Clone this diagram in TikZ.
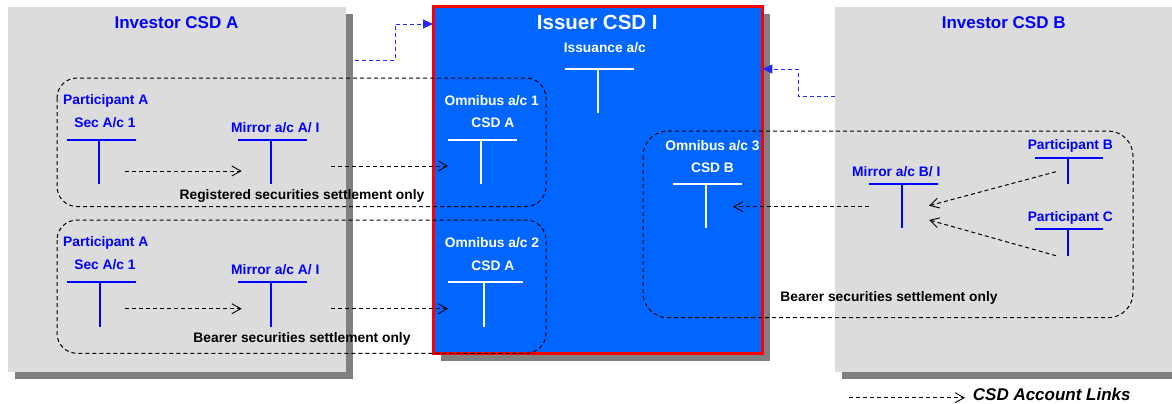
\documentclass[tikz,border=0pt]{standalone}
\usepackage{fontspec}
\setmainfont{Liberation Sans}
\usetikzlibrary{arrows.meta,shadows}

\definecolor{boxgray}{HTML}{DCDCDC}
\definecolor{shadowgray}{HTML}{808080}
\definecolor{issuerblue}{HTML}{0066FF}

\tikzset{
	csdbox/.style={fill=boxgray, inner sep=0pt, outer sep=0pt},
	boxshadow/.style={drop shadow={shadow xshift=7pt, shadow yshift=-7pt, fill=shadowgray, opacity=1}},
	title/.style={text=blue, anchor=base, inner sep=0pt, font=\bfseries\fontsize{17}{20}\selectfont},
	acct/.style={text=blue, anchor=base, inner sep=0pt, font=\bfseries\fontsize{13.8}{16}\selectfont},
	acctw/.style={acct, text=white},
	note/.style={acct, text=black},
	tbar/.style={line width=2pt, blue},
	tbarw/.style={tbar, white},
	region/.style={draw=black, line width=1pt, dash pattern=on 4pt off 3pt, rounded corners=20pt},
	link/.style={black, line width=1pt, dash pattern=on 4pt off 3pt, -{Straight Barb[length=9pt, width=10pt, line width=0.9pt]}},
	blink/.style={blue!85!white, line width=0.9pt, dash pattern=on 4pt off 3pt, -{Triangle[length=10pt, width=9pt]}}
}

\begin{document}
\begin{tikzpicture}[x=1pt, y=-1pt]
		\useasboundingbox[fill=white] (0,0) rectangle (1172,404);

		% the three CSDs
		\node[csdbox, boxshadow, minimum width=338pt, minimum height=364.7pt] (csdA) at (177,189.35) {};
		\node[csdbox, drop shadow={shadow xshift=8pt, shadow yshift=-8pt, fill=shadowgray, opacity=1},
			fill=issuerblue, draw=red, line width=3pt, minimum width=329.3pt, minimum height=347pt] (issuer) at (597.65,179.8) {};
		\node[csdbox, boxshadow, minimum width=350pt, minimum height=364.7pt] (csdB) at (1010,189.35) {};

		\node[title] (titleA) at (176.5,28.3) {Investor CSD A};
		\node[title, text=white, font=\bfseries\fontsize{20.5}{24}\selectfont] (titleI) at (597.3,29.3) {Issuer CSD I};
		\node[title] (titleB) at (1003.7,28.3) {Investor CSD B};

		% links between the CSDs
		\coordinate (lkA1) at (355,60);
		\coordinate (lkA2) at (395,24);
		\draw[blink] (lkA1) -| (lkA2) -- (lkA2 -| issuer.west);
		\coordinate (lkB1) at (835,96);
		\coordinate (lkB2) at (798,69);
		\draw[blink] (lkB1) -| (lkB2) -- (lkB2 -| issuer.east);

		% settlement areas
		\draw[region] (57,78) rectangle (546,206.5);
		\draw[region] (57,220) rectangle (546,353.3);
		\draw[region, rounded corners=25pt] (643,131) rectangle (1133,317.7);

		% issuer accounts
		\node[acctw] (issuance) at (604.8,52.7) {Issuance a/c};
		\draw[tbarw] (565,69) -- (634,69) (598,69) -- (598,113);
		\node[acctw] (omni1) at (491.7,105) {Omnibus a/c 1};
		\node[acctw] (csdA1) at (492.8,127.3) {CSD A};
		\draw[tbarw] (448,140) -- (517,140) (481,140) -- (481,184);
		\node[acctw] (omni2) at (492,247) {Omnibus a/c 2};
		\node[acctw] (csdA2) at (492.8,270) {CSD A};
		\draw[tbarw] (448,281.7) -- (523,281.7) (484,281.7) -- (484,326.7);
		\node[acctw] (omni3) at (712.5,150) {Omnibus a/c 3};
		\node[acctw] (csdB3) at (712.5,172) {CSD B};
		\draw[tbarw] (673,184.3) -- (742,184.3) (706,184.3) -- (706,228.3);

		% investor CSD A, registered
		\node[acct, anchor=base west] (partA1) at (63,104.5) {Participant A};
		\node[acct] (secA1) at (105,127.3) {Sec A/c 1};
		\draw[tbar] (67,140) -- (136,140) (99,140) -- (99,184);
		\node[acct] (mirA1) at (275.3,132.7) {Mirror a/c A/ I};
		\draw[tbar] (238,140) -- (307,140) (271,140) -- (271,184);
		\node[note] (note1) at (302,199.5) {Registered securities settlement only};
		\coordinate (a1s) at (125,171);
		\coordinate (a1e) at (241.7,171);
		\coordinate (a2s) at (331,166);
		\coordinate (a2e) at (448,166);
		\draw[link] (a1s) -- (a1e);
		\draw[link] (a2s) -- (a2e);

		% investor CSD A, bearer
		\node[acct, anchor=base west] (partA2) at (63,246.5) {Participant A};
		\node[acct] (secA2) at (105,269.5) {Sec A/c 1};
		\draw[tbar] (67,281.7) -- (136,281.7) (100,281.7) -- (100,326.7);
		\node[acct] (mirA2) at (275.3,274.5) {Mirror a/c A/ I};
		\draw[tbar] (238,281.7) -- (307,281.7) (271,281.7) -- (271,326.7);
		\node[note] (note2) at (302,342.5) {Bearer securities settlement only};
		\coordinate (a3s) at (125,308.7);
		\coordinate (a3e) at (241.7,308.7);
		\coordinate (a4s) at (331,308.7);
		\coordinate (a4e) at (448,308.7);
		\draw[link] (a3s) -- (a3e);
		\draw[link] (a4s) -- (a4e);

		% investor CSD B
		\node[acct] (mirB) at (896.3,176.5) {Mirror a/c B/ I};
		\draw[tbar] (869,184.3) -- (938,184.3) (902,184.3) -- (902,228.3);
		\node[acct] (partB) at (1070.3,149.5) {Participant B};
		\draw[tbar] (1035,157.7) -- (1103,157.7) (1068,157.7) -- (1068,184.3);
		\node[acct] (partC) at (1070.3,221.5) {Participant C};
		\draw[tbar] (1035,229) -- (1103,229) (1068,229) -- (1068,255.7);
		\node[note] (note3) at (889,301.5) {Bearer securities settlement only};
		\coordinate (b1s) at (869,206.7);
		\coordinate (b1e) at (733,206.7);
		\coordinate (b2s) at (1056,171.7);
		\coordinate (b2e) at (929,205.7);
		\coordinate (b3s) at (1056,255.7);
		\coordinate (b3e) at (929,220);
		\draw[link] (b1s) -- (b1e);
		\draw[link] (b2s) -- (b2e);
		\draw[link] (b3s) -- (b3e);

		% legend
		\coordinate (lgs) at (849,397.7);
		\coordinate (lge) at (965,397.7);
		\draw[link] (lgs) -- (lge);
		\node[note, anchor=base west, font=\bfseries\itshape\fontsize{17}{20}\selectfont] (legend) at (972.7,400.5) {CSD Account Links};
\end{tikzpicture}
\end{document}
